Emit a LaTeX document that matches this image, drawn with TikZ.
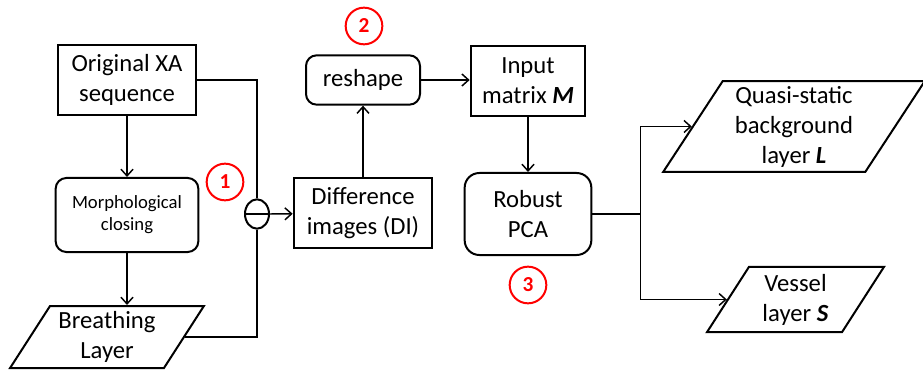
\documentclass[tikz,border=0pt]{standalone}
\usepackage{fontspec}
\setmainfont{Carlito}
\usepackage{tikz}
\usetikzlibrary{arrows.meta, shapes, positioning}

\begin{document}
\begin{tikzpicture}[ % GLOBAL CFG
    x=0.75pt, y=-0.75pt,
    font=\fontsize{18.5}{22.5}\selectfont,
    >={Straight Barb[length=5pt,width=9pt]},
    % Styles
    block/.style={% For the square boxes
        rectangle,
        draw,
        line width=1.5pt,
        align=center,
        inner sep=1pt,
        },
    rblock/.style={% For the rounded boxes
        block,
        rounded corners=8pt,
        },
    layer/.style={% For inputs and outputs
        trapezium,
        trapezium left angle=#1,
        trapezium right angle=180-#1,
        trapezium stretches=true,
        draw,
        line width=1.5pt,
        align=center,
        inner sep=1pt,
        },
    stepnum/.style={% For the red numbers
        circle,
        draw=red,
        text=red,
        line width=1.5pt,
        minimum size=27.5pt,
        inner sep=0pt,
        font=\fontsize{16}{18}\selectfont\bfseries,
        },
    operator/.style={% For the minus
        ellipse,
        draw,
        line width=1.5pt,
        minimum width=18pt,
        minimum height=22pt,
        inner sep=0pt,
        },
    ArrowC1/.style={% Connectors
        line width=1.1pt,
        },
    ]
    \useasboundingbox (0,0) rectangle (923,370);

    % left column
    \node [block, minimum width=103.5pt, minimum height=52pt] (orig) at (127, 80) {Original XA\\sequence};
    \node [rblock, minimum width=107pt, minimum height=55.5pt, font=\fontsize{14}{16.5}\selectfont] (morph) at (127, 215) {Morphological\\closing};
    \node [layer=57, minimum width=145.5pt, minimum height=46.5pt] (breath) at (107, 337) {Breathing\\Layer};

    % subtraction
    \node [operator] (sub) at (257, 214) {};
    \node [stepnum] (one) at (225, 182) {1};

    % middle column
    \node [block, minimum width=104pt, minimum height=52.5pt] (diff) at (363, 213) {Difference\\images (DI)};
    \node [rblock, minimum width=85.5pt, minimum height=37pt] (reshape) at (363, 80) {reshape};
    \node [stepnum] (two) at (364, 26) {2};
    \node [block, minimum width=86pt, minimum height=52.5pt] (input) at (528, 81) {Input\\matrix \textbf{\textit{M}}};
    \node [rblock, rounded corners=11pt, minimum width=95pt, minimum height=61.5pt] (rpca) at (528, 214) {Robust\\PCA};
    \node [stepnum] (three) at (528, 285) {3};

    % outputs
    \node [layer=59, minimum width=196.5pt, minimum height=68pt] (quasi) at (794, 126.5) {Quasi-static\\background\\layer \textbf{\textit{L}}};
    \node [layer=60, minimum width=134pt, minimum height=49pt] (vessel) at (795.5, 299.5) {Vessel\\layer \textbf{\textit{S}}};

    % connectors
    \draw [->, ArrowC1] (orig) -- (morph);
    \draw [->, ArrowC1] (morph.south) -- (morph.south |- breath.north);
    \draw [ArrowC1] (orig.east) -| (sub.north);
    \draw [ArrowC1] (breath.east) -| (sub.south);
    \draw [ArrowC1] (sub.west) -- (sub.east);
    \draw [->, ArrowC1] (sub.east) -- (diff);
    \draw [->, ArrowC1] (diff) -- (reshape);
    \draw [->, ArrowC1] (reshape) -- (input.west |- reshape);
    \draw [->, ArrowC1] (input) -- (rpca);
    \draw [ArrowC1] (rpca.east) -- ++(48, 0) coordinate (split);
    \draw [->, ArrowC1] (split) |- (quasi.west);
    \draw [->, ArrowC1] (split) |- (vessel.west);

\end{tikzpicture}
\end{document}
